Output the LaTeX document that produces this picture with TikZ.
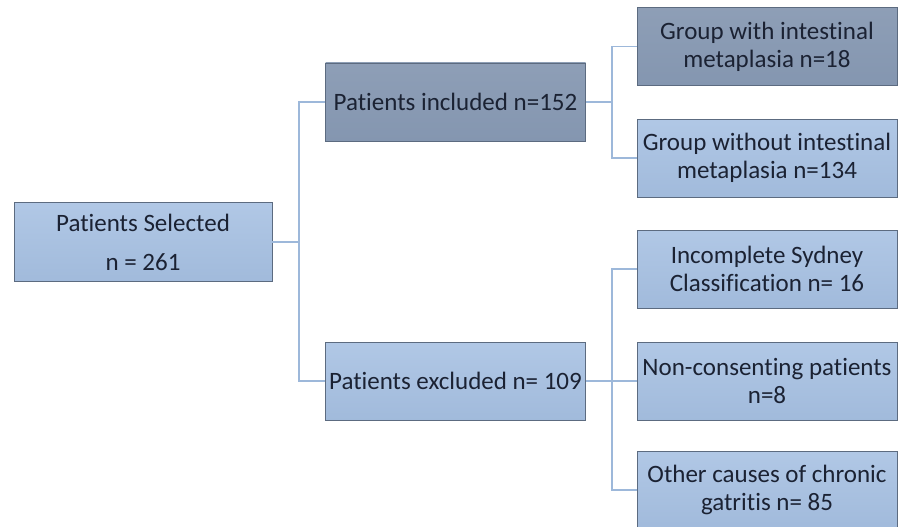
\documentclass[tikz,border=0pt]{standalone}
\usepackage{fontspec}
\setmainfont[Ligatures={NoCommon,NoContextual},Contextuals=NoAlternate]{Carlito}
\usetikzlibrary{positioning}

\definecolor{darkfill}{HTML}{8496B0}
\definecolor{lightfill}{HTML}{A6C0E2}
\definecolor{boxline}{HTML}{5C6B80}
\definecolor{linkcol}{HTML}{9DB8DA}
\definecolor{textcol}{HTML}{1B2233}

\begin{document}
\begin{tikzpicture}[x=1pt, y=-1pt,
  every node/.style={font=\fontsize{25}{28}\selectfont, text=textcol, align=center},
  box/.style={draw=boxline, line width=0.8pt, minimum width=260pt, minimum height=78pt, inner sep=1pt},
  dark/.style={box, top color=darkfill!92!white, bottom color=darkfill},
  light/.style={box, top color=lightfill!88!white, bottom color=lightfill!97!black},
  link/.style={draw=linkcol, line width=1.6pt}]
  \useasboundingbox (0,0) rectangle (900,527);
  % left column
  \node[light, minimum width=258pt, minimum height=79pt, font=\fontsize{25}{39}\selectfont] (sel) at (143,242) {Patients Selected\\n = 261};
  % middle column
  \node[dark]  (incl) at (455.5,102) {Patients included n=152};
  \node[light] (excl) at (455.5,381) {Patients excluded n= 109};
  % right column
  \node[dark]  (meta)  at (767,46.5) {Group with intestinal\\metaplasia n=18};
  \node[light] (nometa) at (767,158) {Group without intestinal\\metaplasia n=134};
  \node[light] (sydney) at (767,269) {Incomplete Sydney\\Classification n= 16};
  \node[light] (nocons) at (767,381) {Non-consenting patients\\n=8};
  \node[light] (other)  at (767,490) {Other causes of chronic\\gatritis n= 85};
  % connectors
  \coordinate (j1) at (299,242);
  \coordinate (j2) at (612,102);
  \coordinate (j3) at (612,381);
  \draw[link] (sel.east) -- (j1) |- (incl.west);
  \draw[link] (j1) |- (excl.west);
  \draw[link] (incl.east) -- (j2) |- (meta.west);
  \draw[link] (j2) |- (nometa.west);
  \draw[link] (excl.east) -- (j3) |- (sydney.west);
  \draw[link] (j3) |- (other.west);
  \draw[link] (j3) -- (nocons.west);
\end{tikzpicture}
\end{document}
